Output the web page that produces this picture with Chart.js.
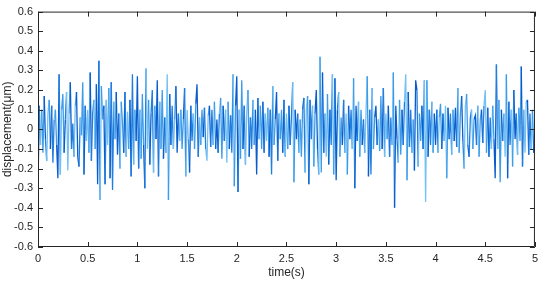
<!DOCTYPE html>
<html>
<head>
<meta charset="utf-8">
<script src="https://cdn.jsdelivr.net/npm/chart.js@4/dist/chart.umd.min.js"></script>
<style>
  html, body { margin: 0; padding: 0; background: #fff; }
  #wrap { width: 543px; height: 281px; }
</style>
</head>
<body>
<div id="wrap"><canvas id="chart"></canvas></div>
<script>
const dt = 0.0125;
const displacement = [
  -0.30, 0.12, -0.08, 0.10, -0.12, 0.17, -0.05, -0.16, 0.08, 0.15, -0.10, 0.12, -0.17, 0.05, 0.10, -0.08, -0.25, 0.28, -0.23, 0.10,
  0.18, -0.12, 0.05, 0.19, -0.21, 0.08, 0.24, -0.10, 0.03, -0.14, 0.12, 0.19, -0.14, -0.19, 0.06, -0.03, 0.24, -0.23, 0.12, -0.06,
  0.10, -0.12, 0.29, -0.16, 0.08, 0.15, -0.10, 0.23, -0.28, 0.35, -0.36, 0.22, 0.05, 0.12, -0.28, 0.15, -0.08, 0.21, -0.25, 0.24,
  -0.31, 0.14, -0.05, 0.19, -0.13, 0.08, -0.20, 0.14, 0.03, -0.12, 0.19, -0.14, 0.09, -0.10, 0.15, -0.24, 0.28, -0.18, 0.10, -0.06,
  0.27, -0.20, 0.10, -0.15, 0.18, -0.08, -0.30, 0.31, -0.10, 0.15, -0.18, 0.08, 0.20, -0.22, 0.12, -0.05, 0.25, -0.24, 0.14, -0.10,
  0.20, -0.15, 0.06, -0.12, 0.28, -0.36, 0.18, -0.08, 0.12, -0.10, 0.05, 0.22, -0.12, 0.08, -0.06, 0.10, -0.10, 0.05, 0.21, -0.24,
  0.10, -0.05, -0.22, 0.12, -0.06, 0.08, -0.10, 0.13, 0.23, -0.14, 0.06, -0.08, 0.10, -0.04, 0.11, -0.10, -0.16, 0.07, 0.12, -0.09,
  0.10, -0.08, 0.14, -0.10, 0.05, -0.12, 0.08, 0.16, -0.15, 0.12, -0.06, 0.10, -0.17, 0.14, -0.10, 0.07, -0.12, 0.28, -0.29, 0.12,
  0.27, -0.32, 0.10, -0.15, 0.25, -0.10, 0.12, -0.18, 0.08, 0.20, -0.14, 0.06, -0.10, 0.15, -0.08, 0.10, -0.23, 0.16, -0.05, 0.12,
  -0.10, 0.14, -0.12, 0.08, -0.06, 0.11, -0.14, 0.10, -0.23, 0.22, -0.08, 0.05, 0.19, -0.16, 0.08, -0.05, 0.10, -0.12, 0.15, -0.14,
  0.08, -0.10, 0.12, -0.08, 0.06, 0.24, -0.27, 0.10, -0.05, 0.08, -0.12, 0.05, -0.14, 0.10, 0.16, -0.22, 0.10, 0.17, -0.28, 0.15,
  -0.05, 0.12, -0.19, 0.08, 0.20, -0.10, -0.23, 0.37, -0.22, 0.29, -0.12, 0.08, -0.14, 0.18, -0.18, 0.10, -0.08, 0.28, -0.23, 0.26,
  -0.26, 0.10, 0.19, -0.14, 0.06, -0.08, 0.15, -0.12, 0.08, -0.23, 0.12, -0.05, 0.10, -0.10, 0.26, -0.30, 0.12, -0.06, 0.14, -0.14,
  0.10, -0.08, 0.05, -0.12, 0.08, 0.27, -0.24, 0.10, -0.23, 0.21, -0.10, 0.06, 0.12, -0.08, 0.05, -0.11, 0.17, -0.10, 0.21, -0.14,
  0.08, -0.05, 0.12, -0.14, 0.06, -0.08, 0.29, -0.40, 0.12, -0.05, -0.17, 0.15, -0.13, 0.10, -0.08, 0.14, 0.28, -0.26, 0.19, -0.09,
  0.10, -0.12, 0.05, -0.21, 0.25, 0.20, -0.19, 0.08, -0.06, 0.12, -0.10, 0.25, -0.37, 0.25, -0.14, 0.10, -0.08, 0.14, -0.12, 0.08,
  -0.08, 0.10, -0.12, 0.06, 0.13, -0.10, 0.08, -0.06, 0.12, -0.25, 0.11, -0.05, 0.08, -0.13, 0.10, -0.06, 0.11, -0.09, 0.21, -0.12,
  0.08, 0.17, -0.06, -0.20, 0.12, 0.18, -0.08, -0.14, 0.06, 0.10, -0.10, 0.05, 0.07, -0.08, 0.12, -0.14, 0.05, 0.10, -0.07, 0.12,
  0.20, -0.12, 0.11, -0.14, 0.06, -0.10, 0.12, -0.05, -0.25, 0.33, -0.10, 0.15, -0.27, 0.10, -0.06, 0.08, -0.14, 0.28, -0.25, 0.14,
  -0.08, 0.10, -0.19, 0.20, -0.05, 0.08, -0.13, 0.11, -0.06, 0.32, -0.19, 0.10, -0.12, 0.14, 0.15, -0.13, 0.08, -0.10, 0.10, -0.12,
  0.05
];
const xTicks = [0, 0.5, 1, 1.5, 2, 2.5, 3, 3.5, 4, 4.5, 5];
const yTicks = [-0.6, -0.5, -0.4, -0.3, -0.2, -0.1, 0, 0.1, 0.2, 0.3, 0.4, 0.5, 0.6];

const points = displacement.map((v, i) => ({ x: +(i * dt).toFixed(4), y: v }));

// the trace is drawn in a few shades of blue
const shades = ['#0a5ccc', '#3d9be9', '#72c0f4', '#1f7ee0'];
const axisColor = '#262626';

// MATLAB-like box with inward ticks on all four sides
const boxTicks = {
  id: 'boxTicks',
  afterDraw(chart) {
    const { ctx, chartArea: a, scales } = chart;
    const len = 5;
    ctx.save();
    ctx.strokeStyle = axisColor;
    ctx.lineWidth = 1;
    ctx.beginPath();
    ctx.rect(a.left + 0.5, a.top + 0.5, a.right - a.left - 1, a.bottom - a.top - 1);
    scales.x.ticks.forEach(t => {
      const px = Math.round(scales.x.getPixelForValue(t.value)) + 0.5;
      ctx.moveTo(px, a.bottom); ctx.lineTo(px, a.bottom - len);
      ctx.moveTo(px, a.top); ctx.lineTo(px, a.top + len);
    });
    scales.y.ticks.forEach(t => {
      const py = Math.round(scales.y.getPixelForValue(t.value)) + 0.5;
      ctx.moveTo(a.left, py); ctx.lineTo(a.left + len, py);
      ctx.moveTo(a.right, py); ctx.lineTo(a.right - len, py);
    });
    ctx.stroke();
    ctx.restore();
  }
};

const fontFamily = '"Liberation Sans", Arial, sans-serif';

new Chart(document.getElementById('chart'), {
  type: 'line',
  data: {
    datasets: [{
      data: points,
      borderWidth: 1.3,
      borderColor: shades[0],
      pointRadius: 0,
      tension: 0,
      segment: {
        borderColor: c => shades[(c.p0DataIndex * 7 + (c.p0DataIndex >> 2)) % shades.length]
      }
    }]
  },
  options: {
    responsive: true,
    maintainAspectRatio: false,
    animation: false,
    layout: { padding: { left: 0, right: 5, top: 5, bottom: 0 } },
    plugins: { legend: { display: false }, tooltip: { enabled: false } },
    scales: {
      x: {
        type: 'linear',
        min: 0,
        max: 5,
        afterBuildTicks: s => { s.ticks = xTicks.map(v => ({ value: v })); },
        afterFit: s => { s.height = 34; },
        grid: { display: false, drawTicks: false },
        border: { display: false },
        ticks: {
          color: axisColor,
          padding: 5,
          maxRotation: 0,
          font: { family: fontFamily, size: 11 },
          callback: v => String(+(+v).toFixed(1))
        },
        title: {
          display: true,
          text: 'time(s)',
          color: axisColor,
          padding: { top: 0, bottom: 1 },
          font: { family: fontFamily, size: 12 }
        }
      },
      y: {
        min: -0.6,
        max: 0.6,
        afterBuildTicks: s => { s.ticks = yTicks.map(v => ({ value: v })); },
        afterFit: s => { s.width = 38; },
        grid: { display: false, drawTicks: false },
        border: { display: false },
        ticks: {
          color: axisColor,
          padding: 5,
          font: { family: fontFamily, size: 11 },
          callback: v => String(+(+v).toFixed(1))
        },
        title: {
          display: true,
          text: 'displacement(μm)',
          color: axisColor,
          padding: { top: 0, bottom: 0 },
          font: { family: fontFamily, size: 12 }
        }
      }
    }
  },
  plugins: [boxTicks]
});
</script>
</body>
</html>
